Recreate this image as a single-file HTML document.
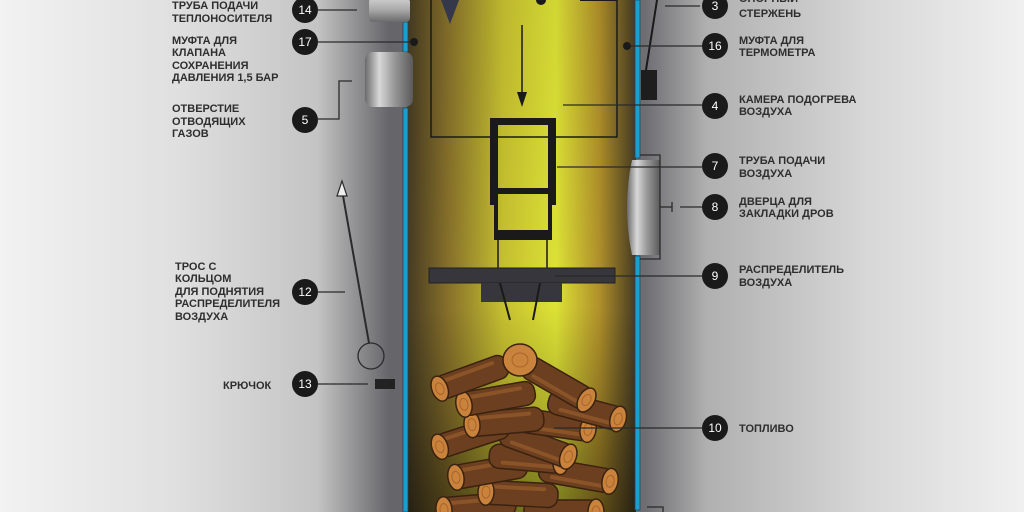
<!DOCTYPE html>
<html><head><meta charset="utf-8"><style>
html,body{margin:0;padding:0;width:1024px;height:512px;overflow:hidden;}
body{background:#e4e4e4;}
svg text{font-family:"Liberation Sans",sans-serif;}
</style></head><body>
<svg width="1024" height="512" viewBox="0 0 1024 512" xmlns="http://www.w3.org/2000/svg">
<defs>
<linearGradient id="bg" x1="0" x2="1" y1="0" y2="0">
<stop offset="0" stop-color="#f2f2f2"/>
<stop offset="0.17" stop-color="#e0e0e0"/>
<stop offset="0.31" stop-color="#c4c4c4"/>
<stop offset="0.38" stop-color="#66666a"/>
<stop offset="0.63" stop-color="#6e6e72"/>
<stop offset="0.69" stop-color="#b0b0b0"/>
<stop offset="0.85" stop-color="#d8d8d8"/>
<stop offset="1" stop-color="#f0f0f0"/>
</linearGradient>
<linearGradient id="yel" x1="0" x2="1" y1="0" y2="0">
<stop offset="0" stop-color="#453a22"/>
<stop offset="0.18" stop-color="#86702a"/>
<stop offset="0.42" stop-color="#c6c030"/>
<stop offset="0.65" stop-color="#dde236"/>
<stop offset="0.84" stop-color="#b0902a"/>
<stop offset="1" stop-color="#453a22"/>
</linearGradient>
<linearGradient id="yshade" x1="0" x2="0" y1="0" y2="1">
<stop offset="0" stop-color="#000" stop-opacity="0.05"/>
<stop offset="0.6" stop-color="#000" stop-opacity="0"/>
<stop offset="0.8" stop-color="#000" stop-opacity="0.2"/>
<stop offset="1" stop-color="#000" stop-opacity="0.45"/>
</linearGradient>
<linearGradient id="cyl" x1="0" x2="1" y1="0" y2="0">
<stop offset="0" stop-color="#6a6a6a"/>
<stop offset="0.3" stop-color="#d8d8d8"/>
<stop offset="0.6" stop-color="#9a9a9a"/>
<stop offset="1" stop-color="#5a5a5a"/>
</linearGradient>
<linearGradient id="cylv" x1="0" x2="0" y1="0" y2="1">
<stop offset="0" stop-color="#d0d0d0"/>
<stop offset="0.5" stop-color="#a8a8a8"/>
<stop offset="1" stop-color="#6a6a6a"/>
</linearGradient>
<g id="log">
<rect x="0" y="-12" width="76" height="24" rx="10" fill="#6b3f1f" stroke="#3a2210" stroke-width="1.5"/>
<rect x="8" y="-8" width="56" height="4" rx="2" fill="#8a5328"/>
<ellipse cx="4" cy="0" rx="8" ry="13" fill="#c9833d" stroke="#3a2210" stroke-width="1.5"/>
<ellipse cx="4" cy="0" rx="4" ry="6" fill="none" stroke="#a9652a" stroke-width="1"/>
</g>
</defs>
<rect width="1024" height="512" fill="url(#bg)"/>
<rect x="407" y="0" width="229" height="512" fill="url(#yel)"/>
<rect x="407" y="0" width="229" height="512" fill="url(#yshade)"/>
<rect x="403" y="22" width="5" height="30" fill="#1e9ed0" stroke="#1a4a60" stroke-width="0.8"/>
<rect x="403" y="108" width="5" height="404" fill="#1e9ed0" stroke="#1a4a60" stroke-width="0.8"/>
<rect x="635" y="0" width="5" height="158" fill="#1e9ed0" stroke="#1a4a60" stroke-width="0.8"/>
<rect x="635" y="256" width="5" height="254" fill="#1e9ed0" stroke="#1a4a60" stroke-width="0.8"/>
<rect x="369" y="-2" width="41" height="24" rx="4" fill="url(#cylv)"/>
<rect x="365" y="52" width="48" height="55" rx="8" fill="url(#cyl)"/>
<path d="M632 160 L660 160 L660 255 L632 255 Q622 207 632 160Z" fill="url(#cyl)"/>
<rect x="431" y="-2" width="186" height="139" fill="none" stroke="#1a1a1a" stroke-width="1.5"/>
<line x1="522" y1="25" x2="522" y2="95" stroke="#1a1a1a" stroke-width="1.5"/>
<polygon points="517,92 527,92 522,107" fill="#1a1a1a"/>
<polygon points="441,0 459,0 450,24" fill="#34384a"/>
<circle cx="541" cy="0" r="5" fill="#1a1a1a"/>
<line x1="580" y1="0" x2="617" y2="0" stroke="#1a1a1a" stroke-width="2"/>
<path d="M490 118 H556 V205 H552 V240 H494 V205 H490Z M498 125 V188 H548 V125Z M498 194 V230 H548 V194Z" fill="#1a1a1a" fill-rule="evenodd"/>
<line x1="498" y1="240" x2="498" y2="268" stroke="#1a1a1a" stroke-width="1.5"/>
<line x1="547" y1="240" x2="547" y2="268" stroke="#1a1a1a" stroke-width="1.5"/>
<rect x="429" y="268" width="186" height="15" fill="#36363c" stroke="#222" stroke-width="1"/>
<rect x="481" y="283" width="81" height="19" fill="#36363c"/>
<line x1="500" y1="283" x2="510" y2="320" stroke="#1a1a1a" stroke-width="2"/>
<line x1="540" y1="283" x2="533" y2="320" stroke="#1a1a1a" stroke-width="2"/>
<use href="#log" transform="translate(600,512) rotate(180)"/>
<use href="#log" transform="translate(440,510) rotate(-5)"/>
<use href="#log" transform="translate(482,492) rotate(3)"/>
<use href="#log" transform="translate(614,482) rotate(190)"/>
<use href="#log" transform="translate(452,478) rotate(-10)"/>
<use href="#log" transform="translate(565,462) rotate(185)"/>
<use href="#log" transform="translate(572,458) rotate(200)"/>
<use href="#log" transform="translate(436,448) rotate(-18)"/>
<use href="#log" transform="translate(592,430) rotate(188)"/>
<use href="#log" transform="translate(622,420) rotate(195)"/>
<use href="#log" transform="translate(468,425) rotate(-5)"/>
<use href="#log" transform="translate(460,405) rotate(-10)"/>
<use href="#log" transform="translate(590,402) rotate(210)"/>
<use href="#log" transform="translate(436,390) rotate(-20)"/>
<g transform="translate(520,360)"><ellipse cx="0" cy="0" rx="17" ry="16" fill="#c9833d" stroke="#3a2210" stroke-width="1.5"/><ellipse cx="0" cy="0" rx="8" ry="7" fill="none" stroke="#a9652a"/></g>
<line x1="657" y1="0" x2="646" y2="70" stroke="#1a1a1a" stroke-width="2"/>
<rect x="641" y="70" width="16" height="30" fill="#1e1e1e"/>
<g stroke="#2a2a2a" stroke-width="1.3" fill="none">
<line x1="318" y1="10" x2="357" y2="10"/>
<line x1="318" y1="42" x2="410" y2="42"/>
<polyline points="318,119 339,119 339,81 352,81"/>
<line x1="318" y1="292" x2="345" y2="292"/>
<line x1="318" y1="384" x2="368" y2="384"/>
<line x1="342" y1="190" x2="369" y2="343" stroke-width="2"/>
<circle cx="371" cy="356" r="13"/>
<line x1="665" y1="6" x2="700" y2="6"/>
<line x1="627" y1="46" x2="702" y2="46"/>
<line x1="563" y1="105" x2="702" y2="105"/>
<line x1="557" y1="167" x2="702" y2="167"/>
<polyline points="640,155 660,155 660,259 640,259"/>
<line x1="660" y1="207" x2="672" y2="207"/>
<line x1="672" y1="202" x2="672" y2="212"/>
<line x1="680" y1="207" x2="702" y2="207"/>
<line x1="555" y1="276" x2="702" y2="276"/>
<line x1="554" y1="428" x2="702" y2="428"/>
<polyline points="647,507 663,507 663,512"/>
</g>
<polygon points="342,181 337,196 347,196" fill="#eee" stroke="#2a2a2a" stroke-width="1.2"/>
<circle cx="414" cy="42" r="4" fill="#1a1a1a"/>
<circle cx="627" cy="46" r="4" fill="#1a1a1a"/>
<rect x="375" y="379" width="20" height="10" fill="#222"/>
<g fill="#1a1a1a">
<circle cx="305" cy="10" r="13"/><circle cx="305" cy="42" r="13"/><circle cx="305" cy="120" r="13"/>
<circle cx="305" cy="292" r="13"/><circle cx="305" cy="384" r="13"/>
<circle cx="715" cy="6" r="13"/><circle cx="715" cy="46" r="13"/><circle cx="715" cy="106" r="13"/>
<circle cx="715" cy="166" r="13"/><circle cx="715" cy="207" r="13"/><circle cx="715" cy="276" r="13"/>
<circle cx="715" cy="428" r="13"/>
</g>
<g fill="#fff" font-size="12" text-anchor="middle">
<text x="305" y="14">14</text><text x="305" y="46">17</text><text x="305" y="124">5</text>
<text x="305" y="296">12</text><text x="305" y="388">13</text>
<text x="715" y="10">3</text><text x="715" y="50">16</text><text x="715" y="110">4</text>
<text x="715" y="170">7</text><text x="715" y="211">8</text><text x="715" y="280">9</text>
<text x="715" y="432">10</text>
</g>
<g fill="#2e2e2e" font-size="11" font-weight="bold">
<text x="172" y="9">ТРУБА ПОДАЧИ</text><text x="172" y="22">ТЕПЛОНОСИТЕЛЯ</text>
<text x="172" y="44">МУФТА ДЛЯ</text><text x="172" y="56">КЛАПАНА</text><text x="172" y="69">СОХРАНЕНИЯ</text><text x="172" y="81">ДАВЛЕНИЯ 1,5 БАР</text>
<text x="172" y="112">ОТВЕРСТИЕ</text><text x="172" y="125">ОТВОДЯЩИХ</text><text x="172" y="137">ГАЗОВ</text>
<text x="175" y="270">ТРОС С</text><text x="175" y="282">КОЛЬЦОМ</text><text x="175" y="295">ДЛЯ ПОДНЯТИЯ</text><text x="175" y="307">РАСПРЕДЕЛИТЕЛЯ</text><text x="175" y="320">ВОЗДУХА</text>
<text x="223" y="389">КРЮЧОК</text>
<text x="739" y="2">ОПОРНЫЙ</text><text x="739" y="17">СТЕРЖЕНЬ</text>
<text x="739" y="44">МУФТА ДЛЯ</text><text x="739" y="56">ТЕРМОМЕТРА</text>
<text x="739" y="103">КАМЕРА ПОДОГРЕВА</text><text x="739" y="115">ВОЗДУХА</text>
<text x="739" y="164">ТРУБА ПОДАЧИ</text><text x="739" y="177">ВОЗДУХА</text>
<text x="739" y="205">ДВЕРЦА ДЛЯ</text><text x="739" y="217">ЗАКЛАДКИ ДРОВ</text>
<text x="739" y="273">РАСПРЕДЕЛИТЕЛЬ</text><text x="739" y="286">ВОЗДУХА</text>
<text x="739" y="432">ТОПЛИВО</text>
</g>
</svg>
</body></html>
